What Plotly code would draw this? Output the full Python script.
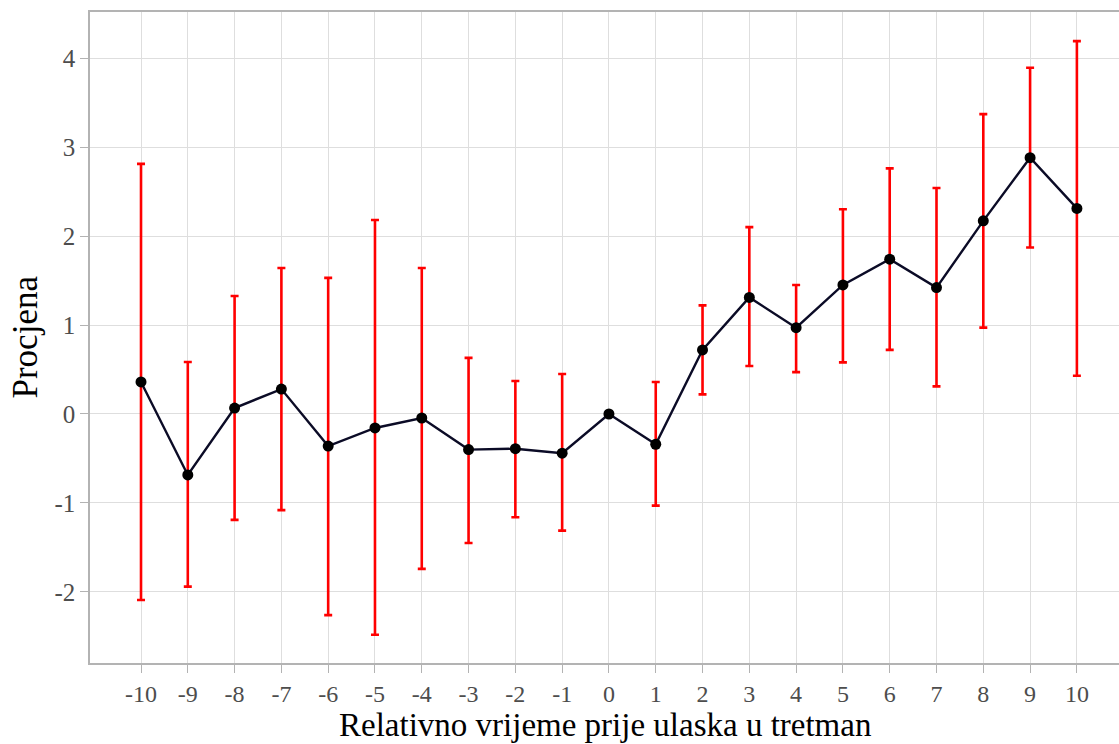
import plotly.graph_objects as go

periods = list(range(-10, 11))
estimates = [0.36, -0.685, 0.067, 0.28, -0.36, -0.157, -0.045, -0.40, -0.39, -0.44, 0.0,
             -0.34, 0.72, 1.31, 0.97, 1.45, 1.74, 1.42, 2.17, 2.88, 2.31]
upper = [2.81, 0.584, 1.326, 1.64, 1.53, 2.18, 1.64, 0.63, 0.37, 0.45, None,
         0.36, 1.22, 2.10, 1.45, 2.30, 2.76, 2.54, 3.37, 3.89, 4.19]
lower = [-2.09, -1.94, -1.19, -1.08, -2.26, -2.48, -1.74, -1.45, -1.16, -1.31, None,
         -1.03, 0.22, 0.54, 0.47, 0.58, 0.72, 0.31, 0.97, 1.87, 0.43]
y_ticks = [-2, -1, 0, 1, 2, 3, 4]
x_title = "Relativno vrijeme prije ulaska u tretman"
y_title = "Procjena"

FONT = "Liberation Serif"

ex, ey, eplus, eminus = [], [], [], []
for p, e, u, l in zip(periods, estimates, upper, lower):
    if u is None:
        continue
    ex.append(p)
    ey.append(e)
    eplus.append(u - e)
    eminus.append(e - l)

fig = go.Figure()
fig.add_trace(go.Scatter(
    x=ex, y=ey, mode="markers", marker=dict(size=1, opacity=0),
    error_y=dict(type="data", symmetric=False, array=eplus, arrayminus=eminus,
                 color="#ff0000", thickness=2.6, width=4),
    showlegend=False, hoverinfo="skip"))
fig.add_trace(go.Scatter(
    x=periods, y=estimates, mode="lines+markers",
    line=dict(color="#0b0b26", width=2.4),
    marker=dict(color="#000000", size=11),
    showlegend=False))

fig.update_layout(
    width=1119, height=744,
    margin=dict(l=90, r=0, t=12, b=81, autoexpand=False),
    plot_bgcolor="white", paper_bgcolor="white",
    font=dict(family=FONT, color="#000000"),
    annotations=[
        dict(text=x_title, xref="paper", yref="paper", x=0.5, y=0, xanchor="center",
             yanchor="middle", yshift=-62, showarrow=False,
             font=dict(family=FONT, size=33, color="#000000")),
        dict(text=y_title, xref="paper", yref="paper", x=0, y=0.5, xanchor="center",
             yanchor="middle", xshift=-65, textangle=-90, showarrow=False,
             font=dict(family=FONT, size=35, color="#000000")),
    ],
)
fig.update_xaxes(
    range=[-11.09, 10.9], tickvals=periods, ticktext=[str(p) for p in periods],
    showgrid=True, gridcolor="#dedede", gridwidth=1.2, zeroline=False,
    showline=True, linecolor="#b3b3b3", linewidth=1.5, mirror=True,
    ticks="outside", ticklen=8, tickcolor="#b3b3b3", tickwidth=1.2,
    tickfont=dict(family=FONT, size=24, color="#4d4d4d"), automargin=False,
)
fig.update_yaxes(
    range=[-2.798, 4.517], tickvals=y_ticks, ticktext=[str(v) for v in y_ticks],
    showgrid=True, gridcolor="#dedede", gridwidth=1.2, zeroline=False,
    showline=True, linecolor="#b3b3b3", linewidth=1.5, mirror=True,
    ticks="outside", ticklen=8, tickcolor="#b3b3b3", tickwidth=1.2,
    tickfont=dict(family=FONT, size=25, color="#4d4d4d"), automargin=False,
)
fig.write_html("out.html", config={"displayModeBar": False},
               post_script="document.body.style.margin='0';document.body.style.overflow='hidden';")
